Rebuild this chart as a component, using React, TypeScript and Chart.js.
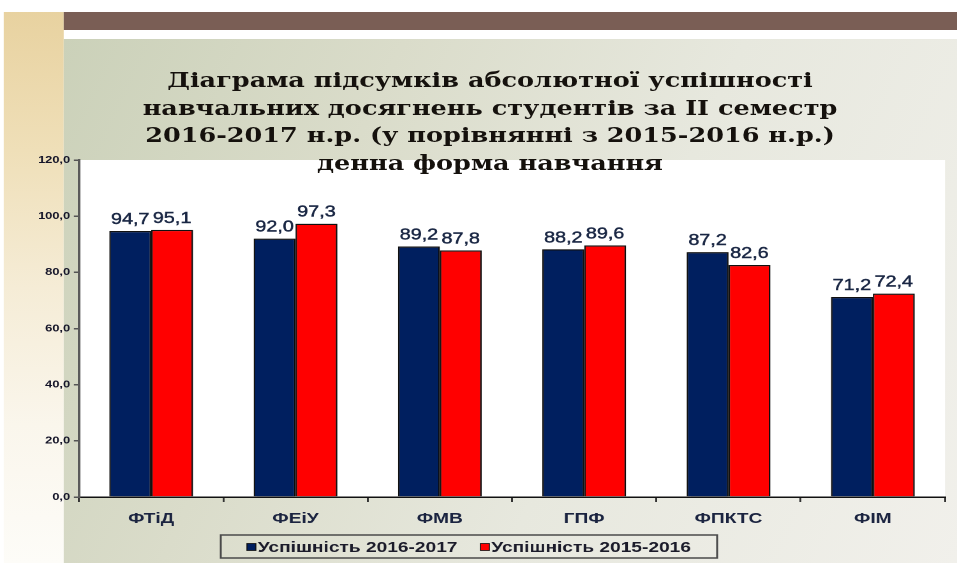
import React, { useEffect, useRef } from 'react';
import { Chart, registerables } from 'chart.js';

Chart.register(...registerables);

// ---- data ----
const categories = ['ФТіД', 'ФЕіУ', 'ФМВ', 'ГПФ', 'ФПКТС', 'ФІМ'];
const series2017 = [94.7, 92.0, 89.2, 88.2, 87.2, 71.2];
const series2016 = [95.1, 97.3, 87.8, 89.6, 82.6, 72.4];
const seriesLabels = ['Успішність 2016-2017', 'Успішність 2015-2016'];
const seriesColors = ['#001f5f', '#ff0000'];
const yTicks = [0, 20, 40, 60, 80, 100, 120];
const titleLines = [
  'Діаграма підсумків абсолютної успішності',
  'навчальних досягнень студентів за ІІ семестр',
  '2016-2017 н.р. (у порівнянні з 2015-2016 н.р.)',
  'денна форма навчання',
];

// ---- layout (internal coords; the slide is stretched horizontally) ----
const W = 750;
const H = 563;
const SX = 957 / W;
const SANS = '"Liberation Sans", Arial, sans-serif';

const fmt = (v: number) => v.toFixed(1).replace('.', ',');

const plotBg = {
  id: 'plotBg',
  beforeDraw(chart: any) {
    const { ctx, chartArea: a } = chart;
    ctx.save();
    ctx.fillStyle = '#ffffff';
    ctx.fillRect(a.left, a.top, a.right - a.left, a.bottom - a.top);
    ctx.restore();
  },
};

const barShadow = {
  id: 'barShadow',
  beforeDatasetsDraw(chart: any) {
    const ctx = chart.ctx;
    ctx.save();
    ctx.shadowColor = 'rgba(0,0,0,0.35)';
    ctx.shadowOffsetX = 1.5;
    ctx.shadowOffsetY = 0;
    ctx.shadowBlur = 1;
  },
  afterDatasetsDraw(chart: any) {
    chart.ctx.restore();
  },
};

const valueLabels = {
  id: 'valueLabels',
  afterDatasetsDraw(chart: any) {
    const ctx = chart.ctx;
    ctx.save();
    ctx.font = `15.5px ${SANS}`;
    ctx.fillStyle = '#1a2744';
    ctx.strokeStyle = '#1a2744';
    ctx.lineWidth = 0.45;
    ctx.textAlign = 'center';
    ctx.textBaseline = 'alphabetic';
    chart.data.datasets.forEach((ds: any, i: number) => {
      const meta = chart.getDatasetMeta(i);
      meta.data.forEach((bar: any, j: number) => {
        const t = fmt(ds.data[j]);
        ctx.fillText(t, bar.x, bar.y - 7);
        ctx.strokeText(t, bar.x, bar.y - 7);
      });
    });
    ctx.restore();
  },
};

const legendBox = {
  id: 'legendBox',
  afterDraw(chart: any) {
    const ctx = chart.ctx;
    const box = { left: 173, right: 562, top: 535, bottom: 558 };
    ctx.save();
    ctx.strokeStyle = '#4a4a4a';
    ctx.lineWidth = 1.5;
    ctx.strokeRect(box.left, box.top, box.right - box.left, box.bottom - box.top);
    ctx.font = `bold 15px ${SANS}`;
    ctx.textBaseline = 'middle';
    ctx.textAlign = 'left';
    const sq = 7;
    const gapSq = 1.5;
    const gapItem = 18;
    const widths = chart.data.datasets.map((d: any) => ctx.measureText(d.label).width);
    const total = widths.reduce((s: number, w: number) => s + w, 0) + chart.data.datasets.length * (sq + gapSq) + gapItem * (chart.data.datasets.length - 1);
    let x = (box.left + box.right) / 2 - total / 2;
    const cy = (box.top + box.bottom) / 2 + 0.5;
    chart.data.datasets.forEach((d: any, i: number) => {
      ctx.fillStyle = d.backgroundColor;
      ctx.fillRect(x, cy - sq / 2, sq, sq);
      ctx.strokeStyle = '#111';
      ctx.lineWidth = 0.8;
      ctx.strokeRect(x, cy - sq / 2, sq, sq);
      x += sq + gapSq;
      ctx.fillStyle = '#1b1b2a';
      ctx.fillText(d.label, x, cy + 1);
      x += widths[i] + gapItem;
    });
    ctx.restore();
  },
};

function SlideChart() {
  const ref = useRef<HTMLCanvasElement | null>(null);
  useEffect(() => {
    if (!ref.current) return;
    const chart = new Chart(ref.current, {
      type: 'bar',
      data: {
        labels: categories,
        datasets: [
          {
            label: seriesLabels[0],
            data: series2017,
            backgroundColor: seriesColors[0],
            borderColor: '#111111',
            borderWidth: 1.2,
            categoryPercentage: 0.58,
            barPercentage: 1.0,
          },
          {
            label: seriesLabels[1],
            data: series2016,
            backgroundColor: seriesColors[1],
            borderColor: '#111111',
            borderWidth: 1.2,
            categoryPercentage: 0.58,
            barPercentage: 1.0,
          },
        ],
      },
      options: {
        responsive: false,
        animation: false,
        devicePixelRatio: 2,
        layout: { padding: { top: 160, right: 9.4, bottom: 0, left: 0 } },
        plugins: {
          legend: { display: false },
          title: { display: false },
          tooltip: { enabled: false },
        },
        scales: {
          x: {
            offset: true,
            ticks: {
              font: { family: SANS, size: 15, weight: 'bold' },
              color: '#1b2440',
              padding: 8,
            },
            grid: {
              display: true,
              offset: true,
              drawOnChartArea: false,
              drawTicks: true,
              tickLength: 5,
              color: '#333333',
              lineWidth: 1.5,
            },
            border: { display: true, color: '#111111', width: 1.5 },
            afterFit: (s: any) => {
              s.height = 66;
            },
          },
          y: {
            min: yTicks[0],
            max: yTicks[yTicks.length - 1],
            afterBuildTicks: (s: any) => {
              s.ticks = yTicks.map((v) => ({ value: v }));
            },
            ticks: {
              callback: (v: any) => fmt(Number(v)),
              font: { family: SANS, size: 10, weight: 'bold' },
              color: '#141428',
              padding: 3,
            },
            grid: {
              display: true,
              drawOnChartArea: false,
              drawTicks: true,
              tickLength: 4,
              color: '#555555',
              lineWidth: 1.5,
            },
            border: { display: true, color: '#5a5a5a', width: 2 },
            afterFit: (s: any) => {
              s.width = 61.9;
            },
          },
        },
      } as any,
      plugins: [plotBg, barShadow, valueLabels, legendBox],
    });
    return () => chart.destroy();
  }, []);

  return (
    <canvas
      ref={ref}
      width={W}
      height={H}
      style={{ position: 'absolute', left: 0, top: 0, width: `${W}px`, height: `${H}px` }}
    />
  );
}

export default function App() {
  return (
    <div
      style={{
        position: 'absolute',
        left: 0,
        top: 0,
        width: `${W}px`,
        height: `${H}px`,
        overflow: 'hidden',
        background: '#ffffff',
        transform: `scaleX(${SX})`,
        transformOrigin: '0 0',
      }}
    >
      <div
        style={{
          position: 'absolute',
          left: 3.1,
          top: 12,
          width: 47.1,
          height: H - 12,
          background: 'linear-gradient(180deg, #e8d2a0 0%, #efdfb8 25%, #f5ecd6 50%, #faf6ec 75%, #fdfcf8 100%)',
        }}
      />
      <div
        style={{
          position: 'absolute',
          left: 50.2,
          top: 12,
          width: W - 50.2,
          height: 18,
          background: '#7a5e55',
        }}
      />
      <div
        style={{
          position: 'absolute',
          left: 50.2,
          top: 39,
          width: W - 50.2,
          height: H - 39,
          background: 'linear-gradient(110deg, #cbd1b9 0%, #dadcca 30%, #e7e8de 60%, #f1f0eb 100%)',
        }}
      />
      <SlideChart />
      <div
        style={{
          position: 'absolute',
          left: 50,
          top: 67,
          width: 668,
          textAlign: 'center',
          fontFamily: '"DejaVu Serif", serif',
          fontWeight: 'bold',
          fontSize: '20px',
          lineHeight: '27.5px',
          color: '#15110d',
          whiteSpace: 'nowrap',
        }}
      >
        {titleLines.map((t, i) => (
          <div key={i}>{t}</div>
        ))}
      </div>
    </div>
  );
}
